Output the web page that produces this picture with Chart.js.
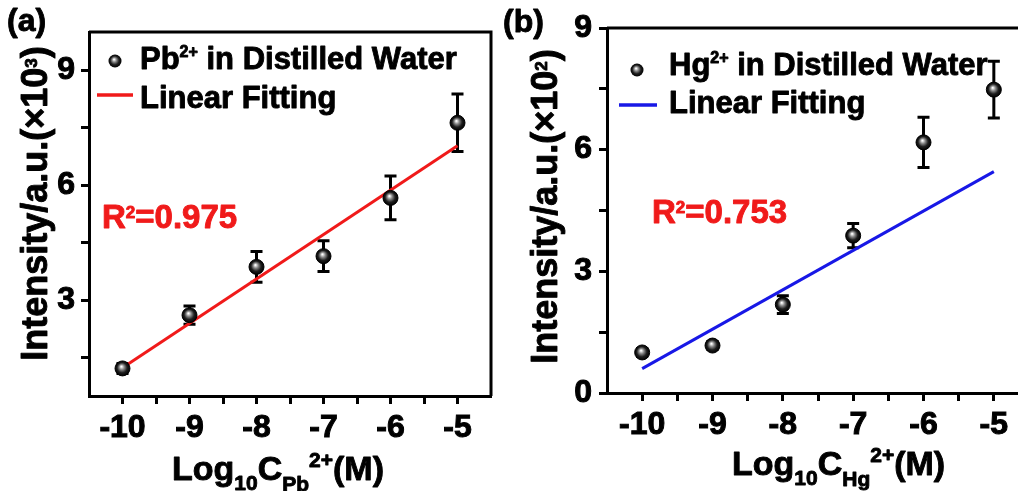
<!DOCTYPE html>
<html><head><meta charset="utf-8">
<script src="https://cdn.jsdelivr.net/npm/chart.js@4.4.1/dist/chart.umd.min.js"></script>
<style>
html,body{margin:0;padding:0;background:#fff;overflow:hidden;width:1018px;height:491px;}
canvas{position:absolute;top:0;}
#chartA{left:0;}
#chartB{left:495px;}
</style></head><body>
<canvas id="chartA" width="509" height="491"></canvas>
<canvas id="chartB" width="560" height="491"></canvas>
<script>
// ---------- data ----------
const xValues = [-10, -9, -8, -7, -6, -5];
const pbIntensity = [1.22, 2.61, 3.87, 4.15, 5.67, 7.63];
const pbErrors = [0.13, 0.24, 0.40, 0.40, 0.57, 0.75];
const pbFitX = [-10, -5];
const pbFitY = [1.24, 7.03];
const hgIntensity = [1.00, 1.17, 2.18, 3.88, 6.18, 7.48];
const hgErrors = [0.10, 0.10, 0.22, 0.30, 0.62, 0.70];
const hgFitX = [-10, -5];
const hgFitY = [0.60, 5.46];
const xTickValues = [-10, -9.5, -9, -8.5, -8, -7.5, -7, -6.5, -6, -5.5, -5];
const pbYTickValues = [1.5, 3, 4.5, 6, 7.5, 9];
const hgYTickValues = [0, 1.5, 3, 4.5, 6, 7.5, 9];
const xRange = [-10.5, -4.5];
const pbYRange = [0.5, 10];
const hgYRange = [0, 9];

const FAM = '"Liberation Sans", Arial, Helvetica, sans-serif';
Chart.defaults.font.family = FAM;

function sphereFill(ctx, x, y, r) {
  if (!isFinite(x) || !isFinite(y)) return '#111';
  const g = ctx.createRadialGradient(x - r * 0.15, y - r * 0.25, r * 0.05, x, y, r);
  g.addColorStop(0, '#ffffff');
  g.addColorStop(0.3, '#8a8a8a');
  g.addColorStop(0.65, '#1e1e1e');
  g.addColorStop(1, '#000000');
  return g;
}

function drawRich(ctx, parts, x, y, base) {
  let cx = x;
  ctx.strokeStyle = ctx.fillStyle;
  ctx.lineWidth = 0.9;
  ctx.lineJoin = 'round';
  for (const [t, s, dy] of parts) {
    ctx.font = 'bold ' + Math.round(base * s) + 'px ' + FAM;
    ctx.fillText(t, cx, y + dy);
    ctx.strokeText(t, cx, y + dy);
    cx += ctx.measureText(t).width;
  }
  return cx - x;
}
function richWidth(ctx, parts, base) {
  let w = 0;
  for (const [t, s] of parts) {
    ctx.font = 'bold ' + Math.round(base * s) + 'px ' + FAM;
    w += ctx.measureText(t).width;
  }
  return w;
}

function makeChart(p) {
  const decor = {
    id: 'decor',
    beforeDatasetsDraw(chart) {
      const ctx = chart.ctx, xs = chart.scales.x, ys = chart.scales.y;
      ctx.save();
      ctx.strokeStyle = '#000';
      ctx.lineWidth = 3;
      p.values.forEach((v, i) => {
        const px = xs.getPixelForValue(xValues[i]);
        const top = ys.getPixelForValue(v + p.errors[i]);
        const bot = ys.getPixelForValue(v - p.errors[i]);
        ctx.beginPath();
        ctx.moveTo(px, top); ctx.lineTo(px, bot);
        ctx.moveTo(px - 6, top); ctx.lineTo(px + 6, top);
        ctx.moveTo(px - 6, bot); ctx.lineTo(px + 6, bot);
        ctx.stroke();
      });
      ctx.restore();
    },
    afterDraw(chart) {
      const ctx = chart.ctx, a = chart.chartArea;
      ctx.save();
      ctx.strokeStyle = '#000';
      ctx.lineWidth = 3;
      ctx.beginPath();
      ctx.moveTo(a.left, a.top); ctx.lineTo(a.right, a.top); ctx.lineTo(a.right, a.bottom);
      ctx.stroke();
      ctx.fillStyle = '#000';
      ctx.textBaseline = 'alphabetic';
      ctx.textAlign = 'left';
      drawRich(ctx, [[p.panel, 1, 0]], p.panelPos[0], p.panelPos[1], 32);
      ctx.fillStyle = sphereFill(ctx, p.legMarker[0], p.legMarker[1], 6.5);
      ctx.beginPath(); ctx.arc(p.legMarker[0], p.legMarker[1], 6.5, 0, Math.PI * 2); ctx.fill();
      ctx.fillStyle = '#000';
      drawRich(ctx, [[p.ion, 1, 0], ['2+', 0.52, -12], [' in Distilled Water', 1, 0]], p.legText[0], p.legText[1], 31);
      ctx.fillStyle = '#000';
      drawRich(ctx, [['Linear Fitting', 1, 0]], p.legText[0], p.legText[2], 31);
      ctx.strokeStyle = p.color; ctx.lineWidth = 3.5;
      ctx.beginPath(); ctx.moveTo(p.legLine[0], p.legLine[2]); ctx.lineTo(p.legLine[1], p.legLine[2]); ctx.stroke();
      ctx.fillStyle = '#f01a1a';
      drawRich(ctx, [['R', 1, 0], ['2', 0.52, -10], [p.r2, 1, 0]], p.r2Pos[0], p.r2Pos[1], 33);
      ctx.fillStyle = '#000';
      drawRich(ctx, [['Log', 1, 0], ['10', 0.61, 10], ['C', 1, 0], [p.ion, 0.61, 11], ['2+', 0.61, -13], ['(M)', 1, 0]], p.xTitle[0], p.xTitle[1], 34);
      const yParts = [['Intensity/a.u.(\u00d710', 1, 0], [p.exp, 0.48, -10], [')', 1, 0]];
      const w = richWidth(ctx, yParts, 35.5);
      ctx.translate(p.yTitle[0], p.yTitle[1]);
      ctx.rotate(-Math.PI / 2);
      ctx.fillStyle = '#000';
      drawRich(ctx, yParts, -w / 2, 0, 35.5);
      ctx.restore();
    }
  };

  const tickFont = { family: FAM, size: 32, weight: 'bold' };
  return new Chart(document.getElementById(p.canvas), {
    type: 'scatter',
    data: {
      datasets: [
        {
          label: p.ion + '2+ in Distilled Water',
          data: xValues.map((x, i) => ({ x: x, y: p.values[i] })),
          pointRadius: 7.5,
          pointBorderWidth: 1,
          pointBorderColor: '#000',
          pointBackgroundColor: (c) => {
            if (c.type !== 'data' || !c.parsed) return '#111';
            const ch = c.chart;
            return sphereFill(ch.ctx, ch.scales.x.getPixelForValue(c.parsed.x), ch.scales.y.getPixelForValue(c.parsed.y), 7.5);
          },
          showLine: false
        },
        {
          label: 'Linear Fitting',
          data: p.fitX.map((x, i) => ({ x: x, y: p.fitY[i] })),
          showLine: true,
          borderColor: p.color,
          borderWidth: 3,
          pointRadius: 0
        }
      ]
    },
    options: {
      responsive: false,
      animation: false,
      devicePixelRatio: 1,
      events: [],
      layout: { padding: p.padding },
      plugins: { legend: { display: false }, tooltip: { enabled: false } },
      scales: {
        x: {
          type: 'linear', min: xRange[0], max: xRange[1],
          afterBuildTicks: (s) => { s.ticks = xTickValues.map(v => ({ value: v })); },
          afterFit: (s) => { s.height = p.xAxisH; },
          ticks: { autoSkip: false, maxRotation: 0, color: '#000', font: tickFont, padding: 5,
            textStrokeColor: '#000', textStrokeWidth: 1,
            callback: (v) => Number.isInteger(v) ? String(v) : '' },
          grid: { drawOnChartArea: false, drawTicks: true, tickLength: 8, tickWidth: 3, tickColor: '#000' },
          border: { display: true, color: '#000', width: 3 }
        },
        y: {
          type: 'linear', min: p.yRange[0], max: p.yRange[1],
          afterBuildTicks: (s) => { s.ticks = p.yTicks.map(v => ({ value: v })); },
          afterFit: (s) => { s.width = p.yAxisW; },
          ticks: { autoSkip: false, color: '#000', font: tickFont, padding: p.yPad,
            textStrokeColor: '#000', textStrokeWidth: 1,
            callback: (v) => (v % 3 === 0) ? String(v) : '' },
          grid: { drawOnChartArea: false, drawTicks: true, tickLength: 8, tickWidth: 3, tickColor: '#000' },
          border: { display: true, color: '#000', width: 3 }
        }
      }
    },
    plugins: [decor]
  });
}

makeChart({
  canvas: 'chartA', panel: '(a)', ion: 'Pb', exp: '3', r2: '=0.975', color: '#f01a1a',
  values: pbIntensity, errors: pbErrors, fitX: pbFitX, fitY: pbFitY,
  yRange: pbYRange, yTicks: pbYTickValues,
  padding: { left: 0, top: 32, right: 18, bottom: 0 }, yAxisW: 89, xAxisH: 95, yPad: 6,
  panelPos: [7, 31], legMarker: [115, 61], legText: [140, 69, 108], legLine: [97, 133, 95],
  r2Pos: [102, 228], xTitle: [172, 480], yTitle: [47, 203.5]
});
makeChart({
  canvas: 'chartB', panel: '(b)', ion: 'Hg', exp: '2', r2: '=0.753', color: '#1818e6',
  values: hgIntensity, errors: hgErrors, fitX: hgFitX, fitY: hgFitY,
  yRange: hgYRange, yTicks: hgYTickValues,
  padding: { left: 0, top: 28, right: 26, bottom: 0 }, yAxisW: 112, xAxisH: 98, yPad: 7,
  panelPos: [8, 32], legMarker: [142, 70], legText: [174, 75, 113], legLine: [124, 162, 105],
  r2Pos: [157, 223], xTitle: [237, 475], yTitle: [62, 206.5]
});
</script></body></html>
